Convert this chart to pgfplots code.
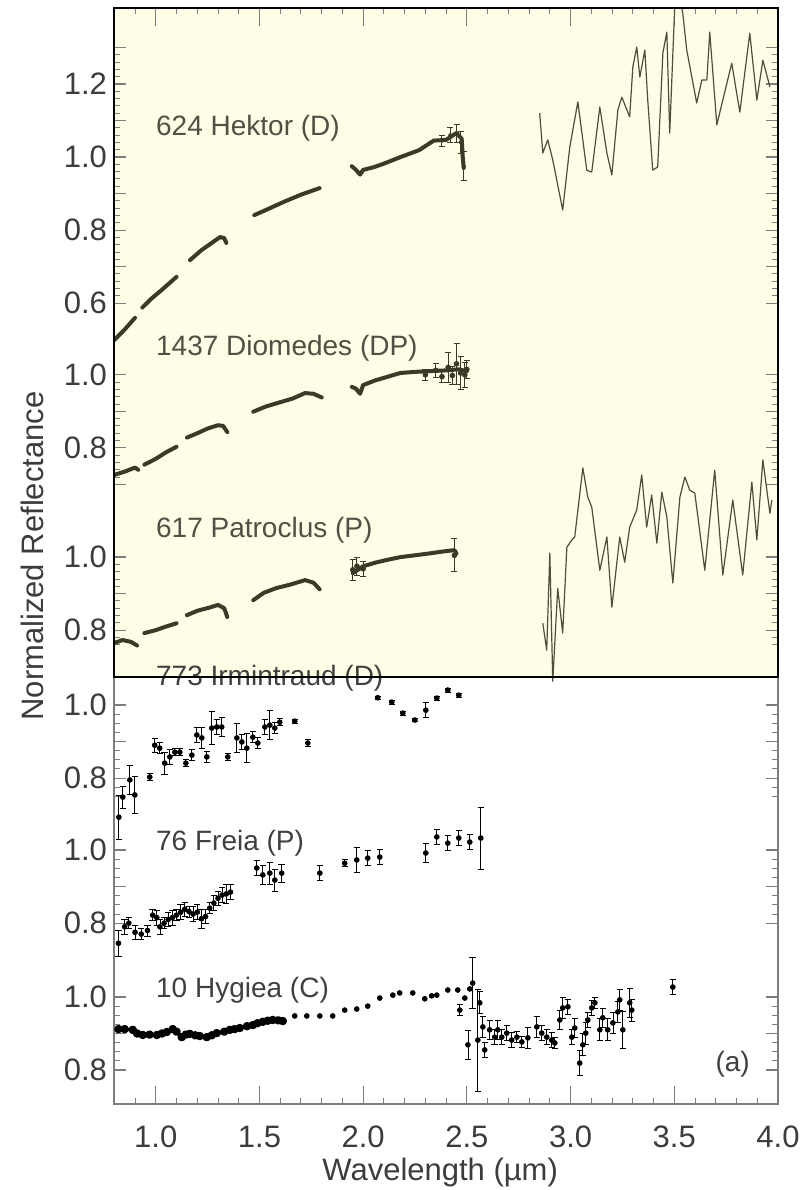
\documentclass[border=0pt]{standalone}
\usepackage{fontspec}
\setmainfont{Liberation Sans}
\usepackage{pgfplots}
\pgfplotsset{compat=1.18}
\definecolor{cream}{RGB}{254,253,230}
\definecolor{olivec}{RGB}{58,58,40}
\definecolor{lblu}{RGB}{80,80,68}
\definecolor{lbll}{RGB}{64,64,64}
\definecolor{axgray}{RGB}{125,125,125}
\definecolor{tickc}{RGB}{60,60,60}
\begin{document}
\begin{tikzpicture}
\begin{axis}[
  at={(0pt,0pt)}, anchor=south west,
  scale only axis, width=331.85pt, height=548pt,
  set layers, clip mode=individual,
  xmin=0.8, xmax=4.0, ymin=0, ymax=3.0,
  xtick={1,1.5,2,2.5,3,3.5,4},
  xticklabels={1.0,1.5,2.0,2.5,3.0,3.5,4.0},
  minor xtick={0.9,1.0,...,4.0},
  extra x ticks={1,1.5,2,2.5,3,3.5},
  extra x tick labels={},
  extra x tick style={major tick length=9pt},
  ytick={0.093,0.193,0.293,0.495,0.595,0.695,0.892,0.992,1.092,1.297,1.397,1.497,1.696,1.796,1.896,1.996,2.192,2.292,2.392,2.492,2.592,2.692,2.792,2.892},
  yticklabels={0.8,,1.0,0.8,,1.0,0.8,,1.0,0.8,,1.0,,0.8,,1.0,0.6,,0.8,,1.0,,1.2,},
  minor ytick={0.093,0.118,...,0.293,0.495,0.520,...,0.695,0.842,0.867,...,1.092,1.257,1.277,...,1.497,1.696,1.716,...,1.996,2.192,2.212,...,2.892},
  tick align=inside,
  major tick length=6pt, minor tick length=3pt,
  major tick style={axgray, line width=0.6pt},
  minor tick style={axgray, line width=0.5pt},
  axis line style={axgray, line width=0.8pt},
  tick label style={font=\fontsize{15.5}{18}\selectfont, text=tickc},
  xticklabel style={anchor=base, inner sep=0pt, yshift=-21.9pt},
  yticklabel style={anchor=east, inner sep=0pt, xshift=-3.5pt},
  xlabel={Wavelength (µm)}, ylabel={Normalized Reflectance},
  label style={font=\fontsize{15.5}{18}\selectfont, text=tickc},
  xlabel style={at={(axis description cs:0.491,-0.0695)}, anchor=base, inner sep=0pt},
  ylabel style={at={(axis description cs:-0.1073,0.5)}, anchor=base, inner sep=0pt},
  unbounded coords=jump,
]
\begin{pgfonlayer}{axis background}
  \fill[cream] (axis cs:0.8,1.169) rectangle (axis cs:4.0,3.0);
\end{pgfonlayer}

% ---------------- 624 Hektor (offset 1.592)
\addplot[olivec, line width=2pt, line cap=round, line join=round] table[x=x, y expr=\thisrow{y}+1.592] {
x y
0.80 0.499
0.85 0.528
0.90 0.560
nan nan
0.935 0.588
0.98 0.613
1.03 0.637
1.10 0.672
nan nan
1.165 0.718
1.22 0.745
1.27 0.765
1.31 0.781
1.33 0.778
1.34 0.765
nan nan
1.475 0.841
1.55 0.860
1.62 0.878
1.70 0.897
1.79 0.915
nan nan
1.945 0.975
1.965 0.965
1.985 0.952
2.00 0.965
2.05 0.972
2.10 0.982
2.18 1.000
2.27 1.019
2.34 1.045
2.40 1.047
2.45 1.066
2.475 1.050
2.48 1.000
2.485 0.970
};
\addplot[olivec, only marks, mark=*, mark size=0.9pt, error bars/.cd, y dir=both, y explicit,
  error bar style={line width=0.5pt}, error mark options={rotate=90, mark size=1.5pt}]
  table[x=x, y expr=\thisrow{y}+1.592, y error=e] {
x y e
2.38 1.045 0.015
2.42 1.060 0.020
2.45 1.065 0.025
2.47 1.040 0.030
2.485 0.975 0.040
};
\addplot[olivec!90, line width=0.6pt, line join=round] table[x=x, y expr=\thisrow{y}+1.592] {
x y
2.851 1.120
2.866 1.011
2.890 1.047
2.914 0.992
2.962 0.855
2.996 1.027
3.035 1.151
3.078 0.964
3.102 0.959
3.141 1.137
3.175 1.011
3.199 0.951
3.228 1.129
3.247 1.164
3.285 1.110
3.300 1.246
3.319 1.301
3.334 1.219
3.358 1.293
3.372 1.156
3.396 0.964
3.420 0.973
3.445 1.285
3.464 1.342
3.478 1.066
3.502 1.411
3.527 1.430
3.541 1.394
3.560 1.293
3.608 1.148
3.633 1.211
3.657 1.211
3.671 1.342
3.705 1.088
3.734 1.156
3.777 1.257
3.816 1.123
3.864 1.339
3.898 1.156
3.927 1.265
3.961 1.192
};

% ---------------- 1437 Diomedes (offset 0.996)
\addplot[olivec, line width=2pt, line cap=round, line join=round] table[x=x, y expr=\thisrow{y}+0.996] {
x y
0.80 0.726
0.85 0.735
0.90 0.746
0.915 0.740
nan nan
0.945 0.754
1.00 0.770
1.05 0.788
1.10 0.803
nan nan
1.15 0.828
1.20 0.840
1.25 0.853
1.30 0.862
1.325 0.860
1.345 0.843
nan nan
1.47 0.899
1.53 0.913
1.60 0.925
1.66 0.935
1.72 0.950
1.76 0.948
1.80 0.938
nan nan
1.945 0.967
1.965 0.962
1.985 0.948
2.00 0.972
2.06 0.985
2.12 0.995
2.18 1.005
2.25 1.008
2.32 1.010
2.40 1.012
2.46 1.015
2.50 1.010
};
\addplot[olivec, only marks, mark=*, mark size=1.2pt, error bars/.cd, y dir=both, y explicit,
  error bar style={line width=0.5pt}, error mark options={rotate=90, mark size=1.5pt}]
  table[x=x, y expr=\thisrow{y}+0.996, y error=e] {
x y e
2.30 1.000 0.015
2.35 1.012 0.020
2.38 0.995 0.015
2.41 1.020 0.040
2.43 0.998 0.025
2.45 1.030 0.055
2.47 1.005 0.045
2.49 1.000 0.035
2.50 1.015 0.025
};

% ---------------- 617 Patroclus (offset 0.497)
\addplot[olivec, line width=2pt, line cap=round, line join=round] table[x=x, y expr=\thisrow{y}+0.497] {
x y
0.80 0.765
0.84 0.773
0.88 0.768
0.91 0.758
nan nan
0.945 0.792
1.00 0.800
1.05 0.810
1.10 0.819
nan nan
1.15 0.841
1.20 0.853
1.26 0.862
1.30 0.869
1.33 0.860
1.345 0.836
nan nan
1.47 0.882
1.52 0.902
1.58 0.915
1.65 0.925
1.72 0.937
1.76 0.930
1.79 0.912
nan nan
1.95 0.956
2.00 0.975
2.06 0.985
2.12 0.993
2.18 1.000
2.25 1.005
2.32 1.010
2.38 1.015
2.44 1.019
2.45 1.010
};
\addplot[olivec, only marks, mark=*, mark size=1.2pt, error bars/.cd, y dir=both, y explicit,
  error bar style={line width=0.5pt}, error mark options={rotate=90, mark size=1.5pt}]
  table[x=x, y expr=\thisrow{y}+0.497, y error=e] {
x y e
1.95 0.965 0.030
1.97 0.975 0.025
2.00 0.968 0.020
2.44 1.005 0.045
};
\addplot[olivec!90, line width=0.6pt, line join=round] table[x=x, y expr=\thisrow{y}+0.497] {
x y
2.866 0.819
2.885 0.745
2.900 1.011
2.914 0.660
2.938 0.915
2.962 0.792
2.982 1.027
3.006 1.047
3.020 1.055
3.059 1.244
3.083 1.164
3.102 1.137
3.141 0.964
3.175 1.055
3.199 0.863
3.237 1.055
3.261 0.986
3.285 1.082
3.319 1.129
3.343 1.225
3.367 1.082
3.391 1.170
3.416 1.038
3.440 1.178
3.464 1.110
3.493 0.929
3.527 1.164
3.551 1.219
3.575 1.183
3.599 1.175
3.647 0.964
3.695 1.238
3.734 0.951
3.782 1.156
3.830 0.951
3.874 1.205
3.898 1.047
3.927 1.266
3.961 1.120
3.970 1.156
};

% ---------------- 773 Irmintraud (offset 0.092)
\addplot[black, only marks, mark=*, mark size=1.2pt, error bars/.cd, y dir=both, y explicit,
  error bar style={line width=0.4pt}, error mark options={rotate=90, mark size=1.6pt, line width=0.4pt}]
  table[x=x, y expr=\thisrow{y}+0.092, y error=e] {
x y e
0.822 0.693 0.060
0.841 0.748 0.030
0.875 0.795 0.040
0.899 0.754 0.050
0.971 0.803 0.010
0.995 0.890 0.020
1.019 0.882 0.015
1.043 0.841 0.030
1.068 0.858 0.020
1.092 0.871 0.010
1.116 0.871 0.010
1.145 0.841 0.010
1.174 0.863 0.015
1.198 0.918 0.020
1.222 0.910 0.030
1.246 0.858 0.015
1.270 0.937 0.045
1.294 0.940 0.020
1.318 0.940 0.025
1.347 0.858 0.010
1.391 0.910 0.040
1.415 0.899 0.020
1.439 0.882 0.040
1.468 0.912 0.015
1.492 0.896 0.015
1.526 0.940 0.020
1.550 0.945 0.040
1.574 0.937 0.015
1.598 0.953 0.010
1.670 0.956 0.005
1.733 0.896 0.010
2.070 1.020 0.005
2.138 1.008 0.005
2.191 0.978 0.005
2.249 0.959 0.005
2.302 0.986 0.020
2.355 1.019 0.005
2.408 1.041 0.005
2.461 1.027 0.005
};

% ---------------- 76 Freia (offset -0.305)
\addplot[black, only marks, mark=*, mark size=1.2pt, error bars/.cd, y dir=both, y explicit,
  error bar style={line width=0.4pt}, error mark options={rotate=90, mark size=1.6pt, line width=0.4pt}]
  table[x=x, y expr=\thisrow{y}-0.305, y error=e] {
x y e
0.820 0.745 0.035
0.850 0.790 0.020
0.870 0.800 0.015
0.900 0.775 0.020
0.930 0.770 0.015
0.960 0.780 0.015
0.985 0.822 0.015
1.005 0.815 0.020
1.020 0.790 0.020
1.040 0.800 0.015
1.060 0.810 0.020
1.080 0.815 0.020
1.100 0.822 0.015
1.120 0.830 0.020
1.140 0.838 0.020
1.160 0.832 0.015
1.180 0.825 0.020
1.200 0.830 0.020
1.220 0.812 0.025
1.240 0.818 0.020
1.260 0.841 0.015
1.280 0.855 0.020
1.300 0.868 0.020
1.320 0.877 0.020
1.340 0.880 0.025
1.360 0.885 0.020
1.487 0.951 0.020
1.516 0.932 0.025
1.550 0.937 0.030
1.574 0.918 0.030
1.607 0.937 0.025
1.791 0.937 0.020
1.911 0.964 0.010
1.969 0.973 0.035
2.022 0.978 0.020
2.080 0.981 0.020
2.302 0.992 0.025
2.355 1.036 0.020
2.408 1.019 0.020
2.461 1.033 0.020
2.514 1.022 0.020
2.567 1.033 0.085
};

% ---------------- 10 Hygiea (offset -0.707)
\addplot[black, line width=1.6pt, line join=round, mark=*, mark size=1.3pt] table[x=x, y expr=\thisrow{y}-0.707] {
x y
0.820 0.912
0.850 0.912
0.889 0.910
0.910 0.900
0.937 0.896
0.970 0.897
1.005 0.896
1.030 0.900
1.053 0.904
1.082 0.912
1.100 0.905
1.125 0.890
1.145 0.897
1.164 0.899
1.190 0.895
1.212 0.893
1.246 0.890
1.270 0.895
1.294 0.901
1.330 0.905
1.357 0.910
1.380 0.912
1.405 0.915
1.440 0.920
1.468 0.923
1.490 0.928
1.516 0.932
1.540 0.935
1.564 0.937
1.590 0.936
1.612 0.934
};
\addplot[black, only marks, mark=*, mark size=1.2pt] table[x=x, y expr=\thisrow{y}-0.707] {
x y
1.670 0.948
1.728 0.948
1.791 0.948
1.853 0.948
1.911 0.964
1.969 0.967
2.022 0.975
2.080 0.997
2.143 1.005
2.176 1.011
2.239 1.011
2.297 0.995
2.330 1.003
2.355 1.005
2.408 1.019
2.456 1.019
2.490 0.997
2.514 1.022
};
\addplot[black, only marks, mark=*, mark size=1.2pt, error bars/.cd, y dir=both, y explicit,
  error bar style={line width=0.4pt}, error mark options={rotate=90, mark size=1.6pt, line width=0.4pt}]
  table[x=x, y expr=\thisrow{y}-0.707, y error=e] {
x y e
2.466 0.964 0.015
2.505 0.869 0.040
2.528 1.038 0.070
2.553 0.882 0.140
2.562 0.984 0.030
2.577 0.918 0.030
2.586 0.855 0.020
2.610 0.910 0.025
2.634 0.890 0.020
2.649 0.910 0.025
2.668 0.890 0.020
2.692 0.901 0.020
2.716 0.882 0.020
2.741 0.890 0.015
2.765 0.877 0.015
2.794 0.888 0.030
2.837 0.918 0.030
2.861 0.901 0.020
2.885 0.890 0.020
2.909 0.882 0.020
2.924 0.874 0.015
2.948 0.937 0.025
2.962 0.970 0.030
2.987 0.973 0.020
3.006 0.890 0.020
3.020 0.915 0.025
3.044 0.819 0.035
3.059 0.869 0.030
3.073 0.901 0.030
3.083 0.937 0.020
3.102 0.970 0.020
3.117 0.984 0.015
3.141 0.910 0.030
3.155 0.943 0.025
3.179 0.910 0.030
3.204 0.929 0.030
3.228 0.959 0.030
3.237 0.992 0.030
3.252 0.910 0.050
3.285 0.984 0.040
3.295 0.964 0.030
3.493 1.027 0.020
};

% ---------------- labels
\node[anchor=west, inner sep=0pt, font=\fontsize{14}{16}\selectfont, text=lblu] at (axis cs:1.0,2.672) {624 Hektor (D)};
\node[anchor=west, inner sep=0pt, font=\fontsize{14}{16}\selectfont, text=lblu] at (axis cs:1.0,2.070) {1437 Diomedes (DP)};
\node[anchor=west, inner sep=0pt, font=\fontsize{14}{16}\selectfont, text=lblu] at (axis cs:1.0,1.571) {617 Patroclus (P)};
\node[anchor=west, inner sep=0pt, font=\fontsize{14}{16}\selectfont, text=lbll] at (axis cs:1.0,1.166) {773 Irmintraud (D)};
\node[anchor=west, inner sep=0pt, font=\fontsize{14}{16}\selectfont, text=lbll] at (axis cs:1.0,0.714) {76 Freia (P)};
\node[anchor=west, inner sep=0pt, font=\fontsize{14}{16}\selectfont, text=lbll] at (axis cs:1.0,0.312) {10 Hygiea (C)};
\node[anchor=east, inner sep=0pt, font=\fontsize{14}{16}\selectfont, text=lbll] at (axis cs:3.866,0.11) {(a)};

\begin{pgfonlayer}{axis foreground}
  \draw[black, line width=1.1pt] (axis cs:0.8,1.169) rectangle (axis cs:4.0,3.0);
\end{pgfonlayer}
\end{axis}
\path (-57.15pt,-43pt) rectangle (343.85pt,552pt);
\end{tikzpicture}
\end{document}
